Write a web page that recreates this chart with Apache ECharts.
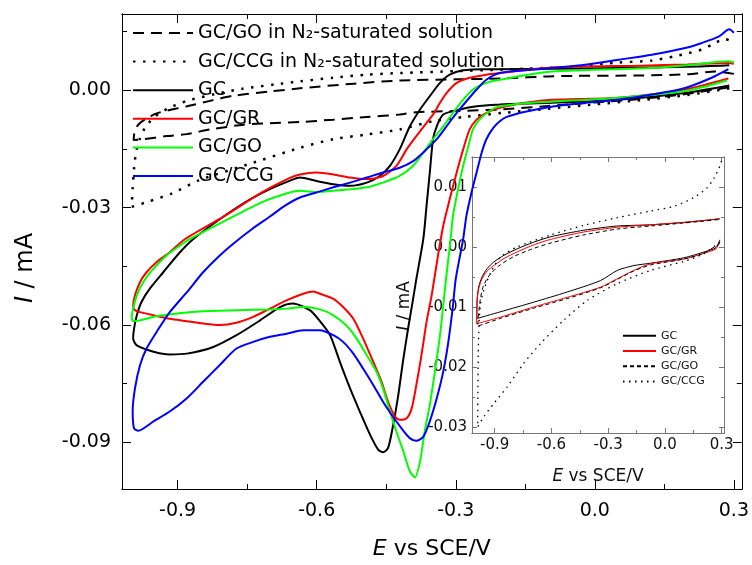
<!DOCTYPE html>
<html>
<head>
<meta charset="utf-8">
<title>CV curves</title>
<script src="https://cdn.jsdelivr.net/npm/echarts@6/dist/echarts.min.js"></script>
<style>
  html, body { margin: 0; padding: 0; background: #fff; }
  #chart { width: 752px; height: 565px; }
</style>
</head>
<body>
<div id="chart"></div>
<script>
// each curve is one loop: cathodic branch (right -> left), then anodic branch back
const mainNames = ['GC/GO in N₂-saturated solution', 'GC/CCG in N₂-saturated solution', 'GC', 'GC/GR', 'GC/GO', 'GC/CCG'];
const insetNames = ['GC\u200b', 'GC/GR\u200b', 'GC/GO\u200b', 'GC/CCG\u200b'];

const goN2 = [
  [0.29, 0.0008], [0.2, -0.0009], [0.1, -0.0022], [0.0, -0.0031], [-0.1, -0.004], [-0.205, -0.0049],
  [-0.3, -0.0053], [-0.385, -0.0056], [-0.421, -0.0062], [-0.492, -0.0068], [-0.564, -0.0075],
  [-0.636, -0.0081], [-0.701, -0.0084], [-0.758, -0.0088], [-0.83, -0.01], [-0.88, -0.0112],
  [-0.924, -0.0117], [-0.974, -0.0125], [-0.995, -0.0127],
  [-0.993, -0.0108], [-0.985, -0.0088], [-0.965, -0.007], [-0.94, -0.0057], [-0.88, -0.0041],
  [-0.83, -0.0027], [-0.78, -0.0014], [-0.7, -0.0003], [-0.636, 0.0005], [-0.52, 0.0017],
  [-0.42, 0.0025], [-0.3, 0.0028], [-0.2, 0.003], [-0.09, 0.0036], [0.1, 0.0038], [0.2, 0.0041],
  [0.26, 0.0048], [0.3, 0.0042]
];
const ccgN2 = [
  [0.29, 0.0005], [0.2, -0.0012], [0.1, -0.0025], [0.0, -0.0036], [-0.1, -0.0047], [-0.2, -0.0058],
  [-0.28, -0.0068], [-0.349, -0.0079], [-0.421, -0.01], [-0.492, -0.0113], [-0.564, -0.0125],
  [-0.636, -0.0147], [-0.75, -0.019], [-0.854, -0.023], [-0.911, -0.0263], [-0.967, -0.0286],
  [-0.999, -0.0298],
  [-0.997, -0.025], [-0.994, -0.02], [-0.99, -0.016], [-0.982, -0.0125], [-0.97, -0.0095],
  [-0.95, -0.0068], [-0.92, -0.0046], [-0.88, -0.0027], [-0.82, -0.001], [-0.76, 0.0004],
  [-0.69, 0.0015], [-0.636, 0.0023], [-0.564, 0.0032], [-0.492, 0.004], [-0.42, 0.0044],
  [-0.3, 0.0049], [-0.2, 0.0053], [-0.035, 0.0061], [0.051, 0.0071], [0.123, 0.0076],
  [0.173, 0.0087], [0.202, 0.0095], [0.231, 0.0104], [0.252, 0.0116], [0.281, 0.0131], [0.3, 0.0122]
];
const gcMain = [
  [0.29, 0.0012], [0.195, -0.0007], [0.051, -0.0024], [-0.093, -0.0032], [-0.205, -0.0036],
  [-0.255, -0.0041], [-0.291, -0.0049], [-0.327, -0.0062], [-0.341, -0.0092], [-0.349, -0.0125],
  [-0.356, -0.021], [-0.363, -0.0295], [-0.37, -0.038], [-0.385, -0.0482], [-0.392, -0.0533],
  [-0.403, -0.061], [-0.414, -0.0694], [-0.424, -0.0779], [-0.435, -0.0855], [-0.446, -0.0914],
  [-0.457, -0.0925], [-0.467, -0.0919], [-0.485, -0.088], [-0.507, -0.0821], [-0.528, -0.0762],
  [-0.55, -0.0694], [-0.571, -0.0626], [-0.593, -0.059], [-0.615, -0.0562], [-0.651, -0.0545],
  [-0.679, -0.0554], [-0.722, -0.0588], [-0.773, -0.0626], [-0.823, -0.0656], [-0.88, -0.0673],
  [-0.917, -0.0675], [-0.952, -0.0668], [-0.988, -0.0652], [-0.996, -0.0634],
  [-0.994, -0.0609], [-0.988, -0.0575], [-0.978, -0.0541], [-0.96, -0.0507], [-0.931, -0.0465],
  [-0.895, -0.0414], [-0.866, -0.038], [-0.8, -0.0322], [-0.75, -0.0283], [-0.7, -0.0252],
  [-0.66, -0.0232], [-0.636, -0.0223], [-0.6, -0.0232], [-0.564, -0.024], [-0.528, -0.0244],
  [-0.492, -0.0236], [-0.464, -0.0219], [-0.442, -0.0193], [-0.421, -0.0151], [-0.399, -0.0092],
  [-0.377, -0.0049], [-0.356, -0.0015], [-0.334, 0.0019], [-0.313, 0.004], [-0.284, 0.0051],
  [-0.241, 0.0054], [-0.205, 0.0054], [-0.1, 0.0055], [0.05, 0.0057], [0.2, 0.006], [0.29, 0.0064]
];
const grMain = [
  [0.288, 0.003], [0.195, 0.0002], [0.051, -0.0019], [-0.093, -0.0024], [-0.15, -0.0032],
  [-0.205, -0.0045], [-0.234, -0.0058], [-0.255, -0.0075], [-0.27, -0.01], [-0.284, -0.0151],
  [-0.298, -0.021], [-0.313, -0.0278], [-0.327, -0.0346], [-0.338, -0.042], [-0.352, -0.0524],
  [-0.363, -0.0592], [-0.374, -0.0677], [-0.385, -0.0753], [-0.395, -0.0813], [-0.406, -0.0838],
  [-0.421, -0.0842], [-0.431, -0.0834], [-0.446, -0.0796], [-0.46, -0.0745], [-0.478, -0.0694],
  [-0.5, -0.0634], [-0.521, -0.0584], [-0.543, -0.0554], [-0.564, -0.0533], [-0.593, -0.052],
  [-0.607, -0.0514], [-0.629, -0.052], [-0.665, -0.0537], [-0.701, -0.0558], [-0.737, -0.0579],
  [-0.773, -0.0594], [-0.809, -0.06], [-0.845, -0.0596], [-0.88, -0.059], [-0.917, -0.0584],
  [-0.952, -0.0575], [-0.981, -0.0567], [-0.992, -0.0562],
  [-0.996, -0.055], [-0.992, -0.0524], [-0.981, -0.049], [-0.967, -0.0465], [-0.945, -0.0439],
  [-0.917, -0.0414], [-0.884, -0.038], [-0.8, -0.0322], [-0.72, -0.0262], [-0.66, -0.0225],
  [-0.636, -0.0215], [-0.6, -0.021], [-0.564, -0.0215], [-0.528, -0.0223], [-0.492, -0.0227],
  [-0.457, -0.0219], [-0.428, -0.0193], [-0.406, -0.0151], [-0.385, -0.0117], [-0.363, -0.0083],
  [-0.349, -0.0062], [-0.334, -0.0032], [-0.32, -0.0007], [-0.298, 0.0019], [-0.27, 0.0032],
  [-0.234, 0.004], [-0.205, 0.0044], [-0.093, 0.0058], [0.1, 0.0063], [0.2, 0.0066],
  [0.288, 0.007], [0.3, 0.0068]
];
const goMain = [
  [0.285, 0.0025], [0.195, -0.0002], [0.051, -0.0019], [-0.093, -0.0029], [-0.15, -0.0033],
  [-0.205, -0.0041], [-0.227, -0.0053], [-0.249, -0.0075], [-0.263, -0.01], [-0.273, -0.0143],
  [-0.284, -0.0193], [-0.295, -0.0253], [-0.306, -0.0321], [-0.311, -0.038], [-0.321, -0.0482],
  [-0.327, -0.055], [-0.334, -0.0626], [-0.345, -0.0719], [-0.356, -0.0804], [-0.367, -0.0872],
  [-0.377, -0.0948], [-0.388, -0.0989], [-0.399, -0.0974], [-0.413, -0.0923], [-0.428, -0.0872],
  [-0.442, -0.0821], [-0.457, -0.0762], [-0.471, -0.0719], [-0.492, -0.0677], [-0.514, -0.0634],
  [-0.536, -0.0601], [-0.564, -0.0575], [-0.593, -0.056], [-0.629, -0.0554], [-0.665, -0.0558],
  [-0.701, -0.056], [-0.773, -0.0562], [-0.845, -0.0565], [-0.88, -0.0568], [-0.917, -0.0573],
  [-0.952, -0.0579], [-0.981, -0.0588], [-0.996, -0.059],
  [-0.999, -0.0579], [-0.996, -0.0558], [-0.988, -0.0524], [-0.974, -0.049], [-0.952, -0.0456],
  [-0.924, -0.0422], [-0.895, -0.0397], [-0.873, -0.038], [-0.8, -0.0335], [-0.72, -0.0287],
  [-0.66, -0.0262], [-0.636, -0.0257], [-0.6, -0.026], [-0.564, -0.0257], [-0.528, -0.0253],
  [-0.492, -0.0248], [-0.457, -0.0236], [-0.421, -0.0219], [-0.392, -0.0193], [-0.37, -0.0159],
  [-0.349, -0.0125], [-0.327, -0.0092], [-0.306, -0.0058], [-0.284, -0.0024], [-0.263, 0.0002],
  [-0.234, 0.0019], [-0.205, 0.0027], [-0.093, 0.0048], [0.123, 0.0057], [0.2, 0.0064],
  [0.288, 0.0074], [0.3, 0.0071]
];
const ccgMain = [
  [0.288, 0.0054], [0.252, 0.0032], [0.195, 0.0006], [0.123, -0.0011], [0.051, -0.0024],
  [-0.021, -0.0032], [-0.093, -0.0042], [-0.15, -0.0055], [-0.19, -0.0068], [-0.205, -0.0079],
  [-0.219, -0.0096], [-0.234, -0.0125], [-0.244, -0.0159], [-0.255, -0.021], [-0.266, -0.0261],
  [-0.277, -0.0321], [-0.284, -0.038], [-0.3, -0.0482], [-0.306, -0.055], [-0.316, -0.0643],
  [-0.327, -0.0719], [-0.341, -0.0787], [-0.356, -0.0846], [-0.37, -0.0885], [-0.385, -0.0896],
  [-0.399, -0.0889], [-0.417, -0.0864], [-0.438, -0.083], [-0.457, -0.0796], [-0.478, -0.0753],
  [-0.5, -0.0711], [-0.521, -0.0673], [-0.543, -0.0643], [-0.564, -0.0626], [-0.593, -0.0613],
  [-0.629, -0.0613], [-0.665, -0.0622], [-0.701, -0.063], [-0.737, -0.0643], [-0.773, -0.066],
  [-0.809, -0.0702], [-0.845, -0.0745], [-0.88, -0.0787], [-0.917, -0.0821], [-0.952, -0.0846],
  [-0.985, -0.087], [-0.994, -0.0864],
  [-0.997, -0.0821], [-0.992, -0.0762], [-0.981, -0.0702], [-0.967, -0.066], [-0.945, -0.0617],
  [-0.917, -0.0567], [-0.88, -0.0516], [-0.845, -0.0465], [-0.809, -0.0422], [-0.78, -0.0392],
  [-0.74, -0.0355], [-0.7, -0.0322], [-0.67, -0.0296], [-0.636, -0.0274], [-0.6, -0.0261],
  [-0.564, -0.0248], [-0.528, -0.0236], [-0.492, -0.0223], [-0.457, -0.021], [-0.421, -0.0198],
  [-0.392, -0.0181], [-0.363, -0.0151], [-0.341, -0.0125], [-0.32, -0.0092], [-0.298, -0.0058],
  [-0.277, -0.0028], [-0.255, 0.0002], [-0.234, 0.0027], [-0.205, 0.0044], [-0.15, 0.0051],
  [-0.093, 0.0057], [-0.021, 0.0065], [0.051, 0.0078], [0.123, 0.0091], [0.195, 0.0108],
  [0.231, 0.0121], [0.267, 0.0137], [0.29, 0.0156], [0.3, 0.0147]
];

// inset
const gcInset = [
  [0.29, 0.0012], [0.27, -0.0001], [0.2, -0.0009], [0.1, -0.0018], [-0.076, -0.0027],
  [-0.165, -0.0031], [-0.252, -0.0039], [-0.341, -0.0056], [-0.517, -0.0075], [-0.694, -0.0092],
  [-0.87, -0.0108], [-0.993, -0.0119],
  [-0.994, -0.0094], [-0.985, -0.0067], [-0.967, -0.005], [-0.94, -0.0036], [-0.905, -0.0025],
  [-0.852, -0.0014], [-0.781, -0.0003], [-0.694, 0.0008], [-0.605, 0.0017], [-0.429, 0.0028],
  [-0.252, 0.0035], [-0.076, 0.0037], [0.1, 0.0041], [0.2, 0.0044], [0.29, 0.0047]
];
const grInset = [
  [0.29, 0.001], [0.27, -0.0003], [0.2, -0.0011], [0.1, -0.002], [-0.076, -0.0028],
  [-0.165, -0.0039], [-0.252, -0.0053], [-0.341, -0.0067], [-0.517, -0.0084], [-0.694, -0.01],
  [-0.87, -0.0117], [-0.997, -0.0128],
  [-0.995, -0.0105], [-0.988, -0.0075], [-0.97, -0.0055], [-0.94, -0.004], [-0.9, -0.003],
  [-0.85, -0.0019], [-0.78, -0.0008], [-0.69, 0.0004], [-0.6, 0.0013], [-0.43, 0.0025],
  [-0.25, 0.0033], [-0.076, 0.0037], [0.1, 0.0041], [0.2, 0.0044], [0.29, 0.0047]
];
const goInset = [
  [0.29, 0.0006], [0.2, -0.0011], [0.1, -0.002], [-0.076, -0.003], [-0.165, -0.004],
  [-0.252, -0.0054], [-0.341, -0.0068], [-0.517, -0.0086], [-0.694, -0.0102], [-0.87, -0.0119],
  [-0.99, -0.0132],
  [-0.985, -0.011], [-0.975, -0.0085], [-0.96, -0.0065], [-0.93, -0.0048], [-0.88, -0.0032],
  [-0.8, -0.0016], [-0.7, -0.0003], [-0.6, 0.0007], [-0.43, 0.002], [-0.25, 0.003],
  [-0.076, 0.0035], [0.1, 0.004], [0.2, 0.0043], [0.29, 0.0046]
];
const ccgInset = [
  [0.29, 0.0008], [0.2, -0.0012], [0.1, -0.0024], [-0.076, -0.0039], [-0.252, -0.0061],
  [-0.411, -0.0089], [-0.535, -0.0122], [-0.658, -0.0161], [-0.747, -0.0194], [-0.834, -0.0233],
  [-0.905, -0.0261], [-0.958, -0.0283], [-0.99, -0.03],
  [-0.989, -0.025], [-0.987, -0.018], [-0.983, -0.013], [-0.975, -0.0095], [-0.958, -0.0072],
  [-0.92, -0.0042], [-0.87, -0.0017], [-0.781, 0.0], [-0.605, 0.002], [-0.429, 0.0036],
  [-0.252, 0.0049], [-0.076, 0.006], [0.05, 0.0068], [0.15, 0.0082], [0.22, 0.0098],
  [0.26, 0.0115], [0.29, 0.0135], [0.3, 0.0145]
];

// axes ranges and ticks
const mainXRange = [-1.02, 0.317];
const mainYRange = [-0.1019, 0.0195];
const mainXTicks = [-0.9, -0.6, -0.3, 0, 0.3];
const mainXMinor = [-0.75, -0.45, -0.15, 0.15];
const mainYTicks = [-0.09, -0.06, -0.03, 0];
const mainYMinor = [-0.075, -0.045, -0.015, 0.015];
const insetXRange = [-1.02, 0.312];
const insetYRange = [-0.031, 0.015];
const insetXTicks = [-0.9, -0.6, -0.3, 0, 0.3];
const insetXMinor = [-0.75, -0.45, -0.15, 0.15];
const insetYTicks = [-0.03, -0.02, -0.01, 0, 0.01];
const insetYMinor = [-0.025, -0.015, -0.005, 0.005];

const FONT = 'DejaVu Sans';

function axis(gridIndex, position, range, ticks, tickLen, color, label) {
  return {
    type: 'value',
    gridIndex: gridIndex,
    position: position,
    min: range[0],
    max: range[1],
    splitLine: { show: false },
    axisLine: { show: true, onZero: false, lineStyle: { color: color, width: 1 } },
    axisTick: { show: true, inside: true, length: tickLen, customValues: ticks, lineStyle: { color: color, width: 1 } },
    axisLabel: label ? Object.assign({ show: true, customValues: ticks }, label) : { show: false }
  };
}

const mainXLabel = { margin: 13, fontSize: 19, fontFamily: FONT, color: '#000', formatter: v => v.toFixed(1) };
const mainYLabel = { margin: 11, fontSize: 19, fontFamily: FONT, color: '#000', formatter: v => v.toFixed(2) };
const insetXLabel = { margin: 5, fontSize: 15, fontFamily: FONT, color: '#111', formatter: v => v.toFixed(1) };
const insetYLabel = { margin: 5, fontSize: 15, fontFamily: FONT, color: '#111', formatter: v => v.toFixed(2) };

const xAxes = [
  axis(0, 'bottom', mainXRange, mainXTicks, 9, '#000', mainXLabel),
  axis(0, 'bottom', mainXRange, mainXMinor, 5, '#000'),
  axis(0, 'top', mainXRange, mainXTicks, 9, '#000'),
  axis(0, 'top', mainXRange, mainXMinor, 5, '#000'),
  axis(1, 'bottom', insetXRange, insetXTicks, 5, '#777', insetXLabel),
  axis(1, 'bottom', insetXRange, insetXMinor, 3, '#777'),
  axis(1, 'top', insetXRange, insetXTicks, 5, '#777'),
  axis(1, 'top', insetXRange, insetXMinor, 3, '#777')
];
const yAxes = [
  axis(0, 'left', mainYRange, mainYTicks, 9, '#000', mainYLabel),
  axis(0, 'left', mainYRange, mainYMinor, 5, '#000'),
  axis(0, 'right', mainYRange, mainYTicks, 9, '#000'),
  axis(0, 'right', mainYRange, mainYMinor, 5, '#000'),
  axis(1, 'left', insetYRange, insetYTicks, 5, '#777', insetYLabel),
  axis(1, 'left', insetYRange, insetYMinor, 3, '#777'),
  axis(1, 'right', insetYRange, insetYTicks, 5, '#777'),
  axis(1, 'right', insetYRange, insetYMinor, 3, '#777')
];

xAxes[0].name = '{i|E}{n| vs SCE/V}';
xAxes[0].nameLocation = 'middle';
xAxes[0].nameGap = 49;
xAxes[0].nameTextStyle = {
  rich: {
    i: { fontSize: 22, fontFamily: FONT, fontStyle: 'italic', color: '#000' },
    n: { fontSize: 22, fontFamily: FONT, color: '#000' }
  }
};
xAxes[4].name = '{i|E}{n| vs SCE/V}';
xAxes[4].nameLocation = 'middle';
xAxes[4].nameGap = 35;
xAxes[4].nameTextStyle = {
  rich: {
    i: { fontSize: 17, fontFamily: FONT, fontStyle: 'italic', color: '#111' },
    n: { fontSize: 17, fontFamily: FONT, color: '#111' }
  }
};

function curve(name, data, xi, yi, color, width, type) {
  return {
    name: name,
    type: 'line',
    xAxisIndex: xi,
    yAxisIndex: yi,
    data: data,
    symbol: 'none',
    showSymbol: false,
    smooth: 0.25,
    silent: true,
    lineStyle: { color: color, width: width, type: type },
    itemStyle: { color: color }
  };
}

const chart = echarts.init(document.getElementById('chart'));
chart.setOption({
  animation: false,
  backgroundColor: '#fff',
  grid: [
    { left: 122, top: 14, width: 620, height: 477 },
    { left: 472, top: 157, width: 252, height: 276 }
  ],
  xAxis: xAxes,
  yAxis: yAxes,
  legend: [
    {
      data: mainNames,
      orient: 'vertical',
      left: 127,
      top: 18,
      itemWidth: 60,
      itemHeight: 2,
      itemGap: 8.6,
      selectedMode: false,
      itemStyle: { opacity: 0 },
      textStyle: { fontSize: 19, lineHeight: 20, fontFamily: FONT, color: '#000' }
    },
    {
      data: insetNames,
      orient: 'vertical',
      left: 617,
      top: 324.7,
      itemWidth: 33,
      itemHeight: 2,
      itemGap: 3.3,
      selectedMode: false,
      itemStyle: { opacity: 0 },
      formatter: name => name.replace('\u200b', ''),
      textStyle: { fontSize: 11, lineHeight: 12, fontFamily: FONT, color: '#111' }
    }
  ],
  graphic: [
    {
      type: 'text',
      x: 26,
      y: 268,
      rotation: Math.PI / 2,
      style: {
        text: '{i|I}{n| / mA}',
        align: 'center',
        verticalAlign: 'middle',
        rich: {
          i: { fontSize: 24, fontFamily: FONT, fontStyle: 'italic', fill: '#000' },
          n: { fontSize: 24, fontFamily: FONT, fill: '#000' }
        }
      }
    },
    {
      type: 'text',
      x: 405,
      y: 306,
      rotation: Math.PI / 2,
      style: {
        text: '{i|I}{n| / mA}',
        align: 'center',
        verticalAlign: 'middle',
        rich: {
          i: { fontSize: 17, fontFamily: FONT, fontStyle: 'italic', fill: '#111' },
          n: { fontSize: 17, fontFamily: FONT, fill: '#111' }
        }
      }
    }
  ],
  series: [
    curve(mainNames[0], goN2, 0, 0, '#000', 2, [11, 7]),
    curve(mainNames[1], ccgN2, 0, 0, '#000', 2.5, [2.5, 7.5]),
    curve(mainNames[2], gcMain, 0, 0, '#000', 2, 'solid'),
    curve(mainNames[3], grMain, 0, 0, '#ff0000', 2, 'solid'),
    curve(mainNames[4], goMain, 0, 0, '#00ff00', 2, 'solid'),
    curve(mainNames[5], ccgMain, 0, 0, '#0000ff', 2, 'solid'),
    curve(insetNames[0], gcInset, 4, 4, '#000', 1, 'solid'),
    curve(insetNames[1], grInset, 4, 4, '#ff0000', 1, 'solid'),
    curve(insetNames[2], goInset, 4, 4, '#000', 1, [4, 3]),
    curve(insetNames[3], ccgInset, 4, 4, '#000', 1.3, [1.5, 4.5])
  ]
});
</script>
</body>
</html>
